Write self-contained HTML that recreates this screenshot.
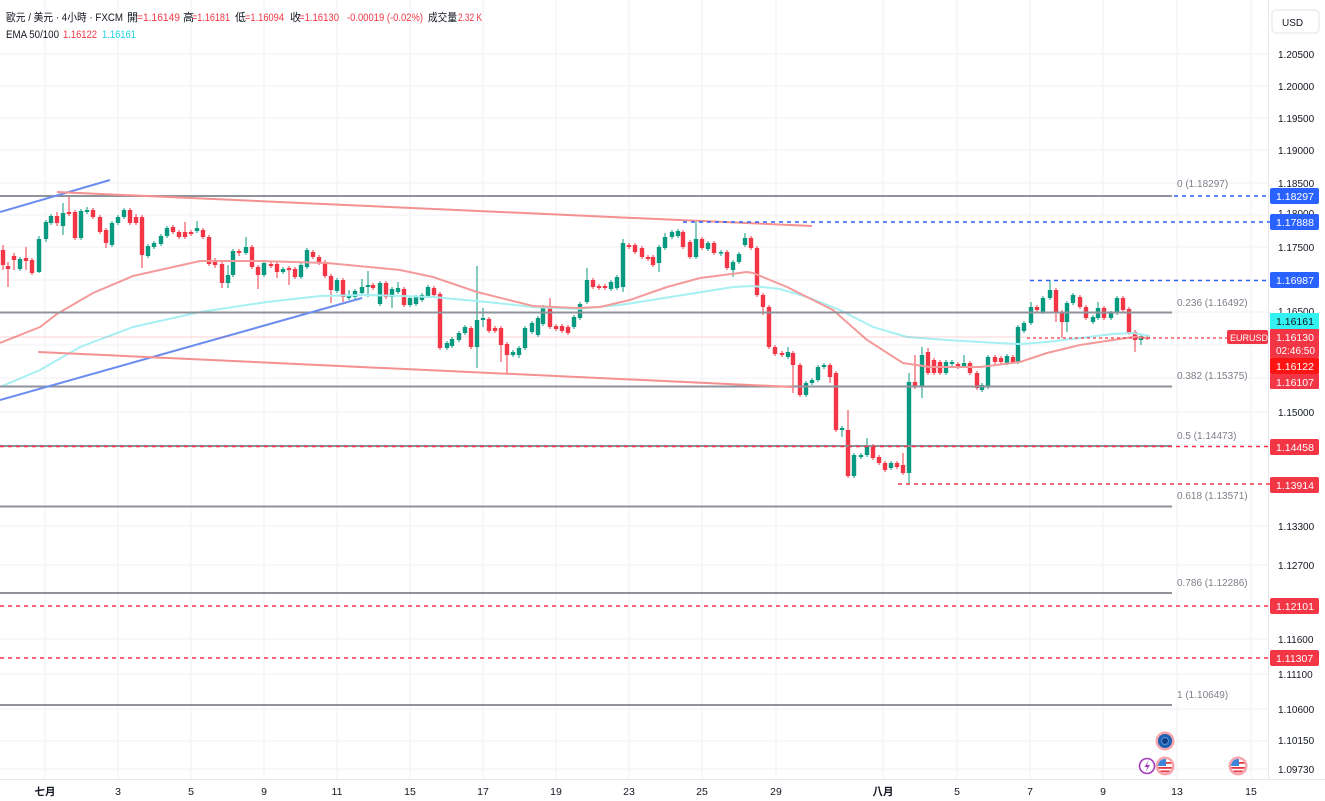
<!DOCTYPE html>
<html><head><meta charset="utf-8"><style>
html,body{margin:0;padding:0;background:#fff;}
svg{display:block;font-family:"Liberation Sans","Noto Sans CJK TC",sans-serif;}
</style></head><body>
<svg width="1325" height="801" viewBox="0 0 1325 801" xmlns="http://www.w3.org/2000/svg">
<rect width="1325" height="801" fill="#fff"/>
<g stroke="#f1f2f5" stroke-width="1">
<path d="M45 0V779M118 0V779M191 0V779M264 0V779M337 0V779M410 0V779M483 0V779M556 0V779M629 0V779M702 0V779M776 0V779M883 0V779M957 0V779M1030 0V779M1103 0V779M1177 0V779M1251 0V779"/>
<path d="M0 54H1268M0 86H1268M0 118H1268M0 150H1268M0 183H1268M0 215H1268M0 247H1268M0 280H1268M0 312H1268M0 345H1268M0 378H1268M0 412H1268M0 526H1268M0 565H1268M0 639H1268M0 674H1268M0 709H1268M0 741H1268M0 769H1268"/>
</g>
<path d="M1268.5 0V779M0 779.5H1325" stroke="#e6e8ee" stroke-width="1"/>

<!-- candles -->
<path fill="none" stroke="#089981" stroke-width="1" d="M20 257V271M39 236V273M46 220V242M51 214V225M63 203V235M81 209V240M87 207V214M112 221V247M118 215V225M124 208V219M148 244V258M154 241V249M161 234V246M167 226V238M197 221V233M228 265V288M233 249V277M246 237V255M264 260V277M283 267V274M301 263V279M307 248V269M337 278V293M349 290V300M355 289V299M362 279V295M368 271V297M380 281V306M392 287V308M398 282V294M410 296V307M416 295V306M422 293V302M428 285V298M447 341V350M452 337V348M459 331V342M465 325V335M477 266V368M483 308V327M513 350V357M519 346V358M525 326V350M532 321V334M538 316V337M543 305V326M574 315V329M580 302V320M587 268V304M611 280V291M617 275V290M623 239V292M659 245V272M665 233V250M672 230V239M678 229V238M696 222V259M708 241V251M721 250V256M733 260V277M739 252V264M745 233V247M788 347V359M806 381V397M812 378V385M818 365V382M824 363V369M842 426V437M854 453V478M861 453V459M867 438V457M891 461V470M909 373V483M922 347V398M946 360V375M952 360V366M964 355V368M982 383V392M988 355V389M1007 354V365M1018 325V364M1024 321V333M1031 302V325M1043 296V314M1050 280V300M1067 301V332M1073 293V305M1093 315V324M1098 302V320M1111 311V320M1117 296V315M1141 334V345"/>
<path fill="none" stroke="#089981" stroke-width="4.4" d="M20 259V269M39 239V272M46 222V239M51 216V223M63 213V226M81 211V238M87 210V212M112 223V245M118 217V223M124 210V217M148 246V256M154 243V247M161 236V244M167 228V236M197 228V231M228 275V283M233 251V275M246 247V253M264 263V275M283 269V272M301 265V277M307 250V267M337 280V291M349 295V298M355 291V297M362 287V293M368 285V287M380 283V304M392 289V297M398 288V292M410 298V305M416 297V304M422 295V300M428 287V296M447 343V348M452 339V346M459 333V340M465 327V333M477 320V347M483 318V320M513 352V355M519 348V355M525 328V348M532 323V332M538 318V335M543 307V324M574 317V327M580 304V318M587 280V302M611 282V289M617 277V288M623 243V287M659 247V263M665 237V248M672 232V237M678 231V236M696 239V257M708 243V249M721 252V253.5M733 262V270M739 254V262M745 238V245M788 352V357M806 383V395M812 380V383M818 367V380M824 365V367M842 428V430M854 455V476M861 455V457M867 446V455M891 463V468M909 382V473M922 355V387M946 362V373M952 362V364M964 363V366M982 385V390M988 357V387M1007 356V363M1018 327V362M1024 323V331M1031 307V323M1043 298V312M1050 290V298M1067 303V322M1073 295V303M1093 317V322M1098 308V318M1111 313V318M1117 298V313M1141 336V340"/>
<path fill="none" stroke="#f23645" stroke-width="1" d="M3 245V270M8 262V287M14 253V270M26 247V270M32 258V275M57 212V226M69 195V216M75 210V240M93 208V219M100 215V234M106 228V248M130 208V225M136 214V225M142 215V268M173 225V234M179 230V239M185 222V239M191 230V236M203 228V239M209 235V266M215 258V268M222 262V288M239 249V256M252 245V269M258 265V289M271 262V268M277 262V278M289 266V285M295 267V279M313 250V259M319 255V265M325 260V278M331 274V303M343 278V302M373 283V290M386 281V299M404 287V307M434 286V297M440 292V350M471 326V349M489 317V333M495 326V333M501 326V362M507 342V373M550 298V329M556 324V331M562 324V333M568 325V335M593 278V289M599 284V290M605 284V290M629 243V249M635 243V254M642 246V259M648 255V261M653 255V267M683 230V249M690 240V259M702 237V250M714 241V255M727 250V270M751 236V250M757 246V297M763 293V315M769 305V349M775 345V356M782 351V357M793 351V393M800 363V397M830 363V383M836 371V432M848 410V478M873 444V460M879 455V465M885 461V472M897 461V469M903 453V475M915 355V389M928 348V375M934 358V375M940 360V375M958 362V369M970 361V375M977 371V390M995 355V364M1001 356V364M1013 355V364M1037 305V312M1056 288V322M1062 310V338M1080 295V309M1086 305V320M1104 306V320M1123 296V312M1129 307V335M1135 330V352M1147 335V340"/>
<path fill="none" stroke="#f23645" stroke-width="4.4" d="M3 250V265M8 266V269M14 256V260M26 258V261M32 260V273M57 216V223M69 212V214M75 212V238M93 210V217M100 217V232M106 230V243M130 210V223M136 217V223M142 217V255M173 227V232M179 232V237M185 232V237M191 232V234M203 230V237M209 237V264M215 260V265M222 264V283M239 251V253M252 247V267M258 267V275M271 264V266M277 264V272M289 268V270M295 269V277M313 252V257M319 257V263M325 262V276M331 276V290M343 280V297M373 285V288M386 283V297M404 289V305M434 288V295M440 294V348M471 328V347M489 319V331M495 328V331M501 328V345M507 344V355M550 308V327M556 326V329M562 326V331M568 327V333M593 280V287M599 286V288M605 286V288M629 245V247M635 245V252M642 248V257M648 257V259M653 257V265M683 232V247M690 242V257M702 239V248M714 243V253M727 252V268M751 238V248M757 248V295M763 295V307M769 307V347M775 347V354M782 353V355M793 353V365M800 365V395M830 365V377M836 373V430M848 430V476M873 446V458M879 457V463M885 463V470M897 463V467M903 465V473M915 382V387M928 352V373M934 360V373M940 362V373M958 364V367M970 363V373M977 373V388M995 357V362M1001 358V362M1013 357V362M1037 307V310M1056 290V313M1062 312V322M1080 297V307M1086 307V318M1104 308V318M1123 298V310M1129 309V333M1135 332V340M1147 337V339"/>

<!-- EMAs -->
<polyline fill="none" stroke="#a6f0f4" stroke-width="2" points="0,387 40,370 80,347 133,327 200,312 267,302 320,296 367,295 433,297 487,302 533,307 577,309 620,305 633,303 683,295 733,287 753,286 780,289 807,297 840,310 873,327 907,337 947,340 997,343 1020,344 1047,342 1080,338 1113,334 1133,333 1150,336"/>
<polyline fill="none" stroke="#f59a9a" stroke-width="2" points="0,343 40,327 57,314 93,293 133,276 200,261 260,261 327,263 400,270 433,277 477,292 533,306 577,308 600,307 630,300 667,287 700,278 747,272 753,273 787,287 833,310 867,340 903,363 930,367 980,367 1020,362 1047,353 1080,345 1113,340 1133,337 1150,338"/>

<!-- fib lines -->
<g stroke="#8f929b" stroke-width="2">
<path d="M0 196H1172M0 312.5H1172M0 386.5H1172M0 446H1172M0 506.5H1172M0 593H1172M0 705H1172"/>
</g>
<g fill="#7d808a" font-size="10">
<text x="1177" y="187">0 (1.18297)</text>
<text x="1177" y="306">0.236 (1.16492)</text>
<text x="1177" y="379">0.382 (1.15375)</text>
<text x="1177" y="439">0.5 (1.14473)</text>
<text x="1177" y="499">0.618 (1.13571)</text>
<text x="1177" y="586">0.786 (1.12286)</text>
<text x="1177" y="698">1 (1.10649)</text>
</g>

<!-- trend lines -->
<g stroke-width="2" fill="none">
<path d="M0 212L110 180M0 400L362 298" stroke="#6b8cf0"/>
<path d="M57 192L812 226M38 352L793 387" stroke="#f59090"/>
</g>

<!-- horizontal price lines -->
<path d="M0 337H1027" stroke="#f23645" stroke-opacity="0.22" stroke-width="1"/>
<path d="M1027 338H1228" stroke="#f23645" stroke-width="1.2" stroke-dasharray="3 3"/>
<g stroke="#2962ff" stroke-width="1.5" stroke-dasharray="4 4">
<path d="M1174 196H1270M683 222H1270M1030 280.5H1270"/>
</g>
<g stroke="#f23645" stroke-width="1.5" stroke-dasharray="4 4">
<path d="M0 446.5H1270M898 484H1270M0 606H1270M0 658H1270"/>
</g>

<!-- header -->
<g font-size="11" fill="#131722">
<text x="6" y="21" textLength="117" lengthAdjust="spacingAndGlyphs">歐元 / 美元 · 4小時 · FXCM</text>
<text x="127" y="21">開</text>
<text x="137" y="21" fill="#f23645" textLength="43" lengthAdjust="spacingAndGlyphs">=1.16149</text>
<text x="183" y="21">高</text>
<text x="192" y="21" fill="#f23645" textLength="38" lengthAdjust="spacingAndGlyphs">=1.16181</text>
<text x="235" y="21">低</text>
<text x="245" y="21" fill="#f23645" textLength="39" lengthAdjust="spacingAndGlyphs">=1.16094</text>
<text x="290" y="21">收</text>
<text x="299" y="21" fill="#f23645" textLength="40" lengthAdjust="spacingAndGlyphs">=1.16130</text>
<text x="347" y="21" fill="#f23645" textLength="76" lengthAdjust="spacingAndGlyphs">-0.00019 (-0.02%)</text>
<text x="428" y="21" textLength="29" lengthAdjust="spacingAndGlyphs">成交量</text>
<text x="458" y="21" fill="#f23645" textLength="24" lengthAdjust="spacingAndGlyphs">2.32 K</text>
<text x="6" y="38" textLength="53" lengthAdjust="spacingAndGlyphs">EMA 50/100</text>
<text x="63" y="38" fill="#f23645" textLength="34" lengthAdjust="spacingAndGlyphs">1.16122</text>
<text x="102" y="38" fill="#1fd3ea" textLength="34" lengthAdjust="spacingAndGlyphs">1.16161</text>
</g>

<!-- price axis -->
<rect x="1272" y="10" width="47" height="23" rx="4" fill="#fff" stroke="#e0e3eb"/>
<text x="1282" y="26" font-size="10" fill="#131722">USD</text>
<g font-size="10" fill="#131722">
<text x="1278" y="58">1.20500</text>
<text x="1278" y="90">1.20000</text>
<text x="1278" y="122">1.19500</text>
<text x="1278" y="154">1.19000</text>
<text x="1278" y="187">1.18500</text>
<text x="1278" y="217">1.18000</text>
<text x="1278" y="251">1.17500</text>
<text x="1278" y="315">1.16500</text>
<text x="1278" y="416">1.15000</text>
<text x="1278" y="530">1.13300</text>
<text x="1278" y="569">1.12700</text>
<text x="1278" y="643">1.11600</text>
<text x="1278" y="678">1.11100</text>
<text x="1278" y="713">1.10600</text>
<text x="1278" y="744">1.10150</text>
<text x="1278" y="773">1.09730</text>
</g>
<g font-size="10.5" fill="#fff">
<rect x="1270" y="188" width="49" height="16" rx="2" fill="#2962ff"/><text x="1276" y="200">1.18297</text>
<rect x="1270" y="214" width="49" height="16" rx="2" fill="#2962ff"/><text x="1276" y="226">1.17888</text>
<rect x="1270" y="272" width="49" height="16" rx="2" fill="#2962ff"/><text x="1276" y="284">1.16987</text>
<rect x="1270" y="313" width="49" height="16" rx="1" fill="#33f2f2"/><text x="1276" y="325" fill="#131722">1.16161</text>
<rect x="1270" y="329" width="49" height="29" rx="1" fill="#f23645"/><text x="1276" y="341">1.16130</text><text x="1276" y="354" font-size="10">02:46:50</text>
<rect x="1270" y="358" width="49" height="16" rx="1" fill="#ff1414"/><text x="1276" y="370">1.16122</text>
<rect x="1270" y="374" width="49" height="15" rx="1" fill="#f23645"/><text x="1276" y="386">1.16107</text>
<rect x="1270" y="439" width="49" height="16" rx="2" fill="#f23645"/><text x="1276" y="451">1.14458</text>
<rect x="1270" y="477" width="49" height="16" rx="2" fill="#f23645"/><text x="1276" y="489">1.13914</text>
<rect x="1270" y="598" width="49" height="16" rx="2" fill="#f23645"/><text x="1276" y="610">1.12101</text>
<rect x="1270" y="650" width="49" height="16" rx="2" fill="#f23645"/><text x="1276" y="662">1.11307</text>
<rect x="1227" y="330" width="41" height="14" rx="2" fill="#f23645"/><text x="1230" y="341" font-size="9">EURUSD</text>
</g>

<!-- time axis -->
<g font-size="10.5" fill="#131722" text-anchor="middle">
<text x="45" y="795" font-weight="bold">七月</text>
<text x="118" y="795">3</text>
<text x="191" y="795">5</text>
<text x="264" y="795">9</text>
<text x="337" y="795">11</text>
<text x="410" y="795">15</text>
<text x="483" y="795">17</text>
<text x="556" y="795">19</text>
<text x="629" y="795">23</text>
<text x="702" y="795">25</text>
<text x="776" y="795">29</text>
<text x="883" y="795" font-weight="bold">八月</text>
<text x="957" y="795">5</text>
<text x="1030" y="795">7</text>
<text x="1103" y="795">9</text>
<text x="1177" y="795">13</text>
<text x="1251" y="795">15</text>
</g>

<!-- event icons -->
<defs>
<clipPath id="f1"><circle cx="1165" cy="766" r="7"/></clipPath>
<clipPath id="f2"><circle cx="1238" cy="766" r="7"/></clipPath>
</defs>
<circle cx="1165" cy="741" r="9.5" fill="#f6a5ac"/>
<circle cx="1165" cy="741" r="7" fill="#1c5fb3"/>
<circle cx="1165" cy="741" r="3.5" fill="#0f3f85" stroke="#5b95d8" stroke-width="1"/>
<circle cx="1147" cy="766" r="7.5" fill="#fff" stroke="#a23bbd" stroke-width="1.6"/>
<path d="M1148.5 760.5L1144.5 767H1147.5L1145.5 772L1150 765H1147Z" fill="#a23bbd"/>
<circle cx="1165" cy="766" r="9.5" fill="#f6a5ac"/>
<g clip-path="url(#f1)"><rect x="1158" y="759" width="14" height="14" fill="#fff"/><rect x="1158" y="759" width="8" height="7" fill="#3f83d8"/><rect x="1166" y="762" width="6" height="1.8" fill="#e23a44"/><rect x="1158" y="767" width="14" height="1.8" fill="#e23a44"/><rect x="1158" y="770.5" width="14" height="1.8" fill="#e23a44"/></g>
<circle cx="1238" cy="766" r="9.5" fill="#f6a5ac"/>
<g clip-path="url(#f2)"><rect x="1231" y="759" width="14" height="14" fill="#fff"/><rect x="1231" y="759" width="8" height="7" fill="#3f83d8"/><rect x="1239" y="762" width="6" height="1.8" fill="#e23a44"/><rect x="1231" y="767" width="14" height="1.8" fill="#e23a44"/><rect x="1231" y="770.5" width="14" height="1.8" fill="#e23a44"/></g>
</svg>
</body></html>
